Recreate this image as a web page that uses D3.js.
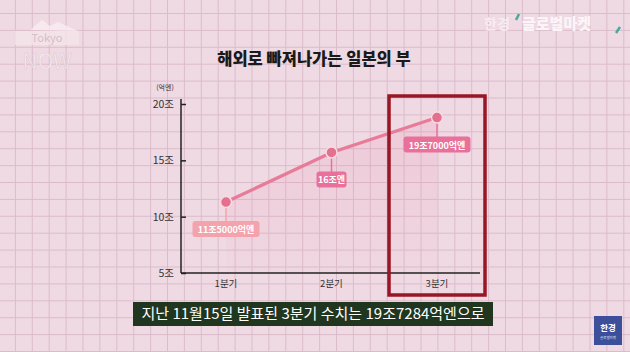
<!DOCTYPE html>
<html>
<head>
  <meta charset="utf-8">
  <script src="https://cdn.jsdelivr.net/npm/d3@7"></script>
  <style>
    body { margin: 0; background: #efd9e3; }
    text { font-family: "Noto Sans CJK KR", "Noto Sans", sans-serif; }
  </style>
</head>
<body>
  <svg id="mainsvg" width="630" height="352"></svg>
  <script>
    // data
    const quarters = ["1분기", "2분기", "3분기"];
    const values = [11.3, 15.7, 18.8];             // 조엔, as plotted
    const pointLabels = ["11조5000억엔", "16조엔", "19조7000억엔"];
    const yTicks = [5, 10, 15, 20];
    const yTickLabels = ["5조", "10조", "15조", "20조"];
    const highlight = "3분기";

    const svg = d3.select('#mainsvg');
    const width = +svg.attr('width');
    const height = +svg.attr('height');

    // background grid paper
    const grid = svg.append('g');
    grid.append('rect').attr('width', width).attr('height', height).attr('fill', '#efd9e3');
    const gx = d3.range(-2, width, 16.9);
    const gy = d3.range(13.5, height, 16.9);
    grid.selectAll('.vx').data(gx).enter().append('line')
      .attr('x1', d => d + 0.5).attr('x2', d => d + 0.5).attr('y1', 0).attr('y2', height)
      .attr('stroke', '#dcbccb').attr('stroke-width', 1);
    grid.selectAll('.hy').data(gy).enter().append('line')
      .attr('y1', d => d).attr('y2', d => d).attr('x1', 0).attr('x2', width)
      .attr('stroke', '#dcbccb').attr('stroke-width', 1);

    const margin = { left: 181, right: 150, top: 104, bottom: 79 };
    const xScale = d3.scalePoint().domain(quarters).range([226, 437]);
    const yScale = d3.scaleLinear().domain([5, 20]).range([273, 104]);

    // title
    svg.append('text').attr('x', 314).attr('y', 65).attr('text-anchor', 'middle')
      .attr('font-size', 16.5).attr('font-weight', 900).attr('fill', '#1a1a1a')
      .text('해외로 빠져나가는 일본의 부');

    svg.append('text').attr('x', 165).attr('y', 90).attr('text-anchor', 'middle')
      .attr('font-size', 7).attr('fill', '#333').text('(억엔)');

    // area under line
    const defs = svg.append('defs');
    const grad = defs.append('linearGradient').attr('id', 'areaGrad')
      .attr('x1', 0).attr('x2', 0).attr('y1', 0).attr('y2', 1);
    grad.append('stop').attr('offset', '0%').attr('stop-color', '#e8789a').attr('stop-opacity', 0.16);
    grad.append('stop').attr('offset', '100%').attr('stop-color', '#e8789a').attr('stop-opacity', 0.02);

    const data = quarters.map((q, i) => ({ q: q, v: values[i], label: pointLabels[i] }));
    const area = d3.area().x(d => xScale(d.q)).y0(yScale(5)).y1(d => yScale(d.v));
    svg.append('path').datum(data).attr('d', area).attr('fill', 'url(#areaGrad)');

    // axes
    const yAxis = d3.axisRight(yScale).tickValues(yTicks).tickSize(5).tickFormat('');
    const yG = svg.append('g').attr('transform', `translate(${margin.left},0)`).call(yAxis);
    yG.select('.domain').attr('d', `M0,99V${yScale(5)}`).attr('stroke', '#222').attr('stroke-width', 1.5);
    yG.selectAll('.tick line').attr('stroke', '#222').attr('stroke-width', 1.5);
    svg.selectAll('.ylab').data(yTicks).enter().append('text')
      .attr('x', 174).attr('y', d => yScale(d) + 4).attr('text-anchor', 'end')
      .attr('font-size', 10.5).attr('fill', '#333').text((d, i) => yTickLabels[i]);

    svg.append('line').attr('x1', margin.left).attr('x2', 480)
      .attr('y1', yScale(5)).attr('y2', yScale(5)).attr('stroke', '#222').attr('stroke-width', 1.5);
    svg.selectAll('.xlab').data(quarters).enter().append('text')
      .attr('x', d => xScale(d)).attr('y', 287).attr('text-anchor', 'middle')
      .attr('font-size', 9.5).attr('fill', '#333').text(d => d);

    // line
    const line = d3.line().x(d => xScale(d.q)).y(d => yScale(d.v));
    svg.append('path').datum(data).attr('d', line)
      .attr('fill', 'none').attr('stroke', '#e87a9a').attr('stroke-width', 3.2);

    // callouts
    const labelFill = ['#f4a2ab', '#e8709a', '#e8709a'];
    const labelW = [67, 30, 67];
    const cg = svg.selectAll('.callout').data(data).enter().append('g')
      .attr('transform', d => `translate(${xScale(d.q)},${yScale(d.v)})`);
    cg.append('line').attr('x1', 0).attr('x2', 0).attr('y1', 4).attr('y2', 22)
      .attr('stroke', (d, i) => labelFill[i]).attr('stroke-width', 1.5);
    cg.append('rect').attr('x', (d, i) => -labelW[i] / 2).attr('y', 19)
      .attr('width', (d, i) => labelW[i]).attr('height', 16).attr('rx', 3)
      .attr('fill', (d, i) => labelFill[i]);
    cg.append('text').attr('x', 0).attr('y', 31).attr('text-anchor', 'middle')
      .attr('font-size', 9).attr('font-weight', 700).attr('fill', '#fff').text(d => d.label);
    cg.append('circle').attr('r', 5.5).attr('fill', '#e5708e')
      .attr('stroke', '#f7dbe3').attr('stroke-width', 1.5);

    // highlight box
    const hx = xScale(highlight);
    svg.append('rect').attr('x', hx - 48).attr('y', 96).attr('width', 96).attr('height', 199)
      .attr('fill', 'none').attr('stroke', '#991624').attr('stroke-width', 3.5);

    // caption
    svg.append('rect').attr('x', 133).attr('y', 302).attr('width', 360).attr('height', 24)
      .attr('fill', '#21361f');
    svg.append('text').attr('x', 313).attr('y', 319).attr('text-anchor', 'middle')
      .attr('font-size', 15).attr('fill', '#fff')
      .text('지난 11월15일 발표된 3분기 수치는 19조7284억엔으로');

    // watermarks
    const wm = svg.append('g').attr('opacity', 0.75);
    wm.append('path').attr('d', 'M30,30 L42,20 L50,26 L58,22 L78,31 Z').attr('fill', '#fbeff3');
    wm.append('rect').attr('x', 15).attr('y', 31).attr('width', 64).attr('height', 14).attr('fill', '#f6e6ec');
    wm.append('text').attr('x', 47).attr('y', 42).attr('text-anchor', 'middle')
      .attr('font-size', 11).attr('fill', '#c9b4bd').text('Tokyo');
    wm.append('text').attr('x', 47).attr('y', 69).attr('text-anchor', 'middle')
      .attr('font-family', 'DejaVu Serif').attr('font-size', 21).attr('fill', '#fbf2f5')
      .attr('stroke', '#d8c4cc').attr('stroke-width', 0.6).text('NOW');

    svg.append('text').attr('x', 484).attr('y', 29).attr('font-size', 14).attr('font-weight', 700)
      .attr('fill', '#f7ecf1').text('한경');
    svg.append('line').attr('x1', 516).attr('y1', 20).attr('x2', 519).attr('y2', 14)
      .attr('stroke', '#4aa9a0').attr('stroke-width', 2.5);
    svg.append('text').attr('x', 522).attr('y', 29).attr('font-size', 15).attr('font-weight', 900)
      .attr('fill', '#fbf5f8').text('글로벌마켓');
    svg.append('line').attr('x1', 616).attr('y1', 33).attr('x2', 620).attr('y2', 27)
      .attr('stroke', '#4aa9a0').attr('stroke-width', 2.5);

    svg.append('rect').attr('x', 594).attr('y', 316).attr('width', 28).attr('height', 29)
      .attr('fill', '#3d4f9b');
    svg.append('text').attr('x', 608).attr('y', 331).attr('text-anchor', 'middle')
      .attr('font-size', 8.5).attr('font-weight', 700).attr('fill', '#fff').text('한경');
    svg.append('text').attr('x', 608).attr('y', 339).attr('text-anchor', 'middle')
      .attr('font-size', 3.5).attr('fill', '#dfe3f5').text('글로벌마켓');
  </script>
</body>
</html>
